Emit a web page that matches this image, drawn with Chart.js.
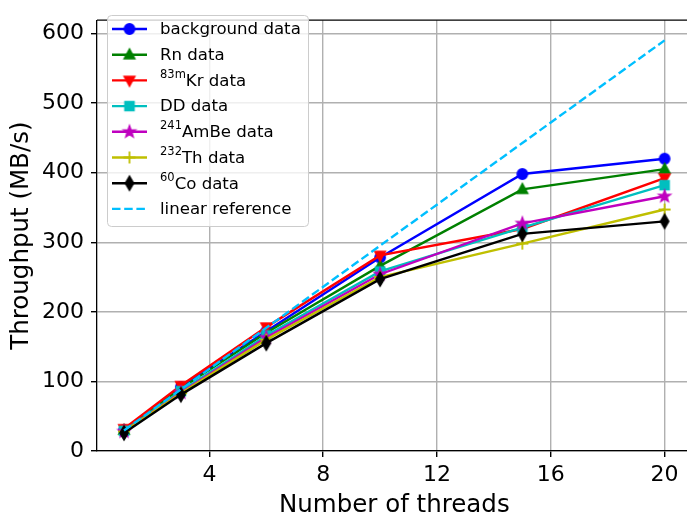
<!DOCTYPE html>
<html lang="en">
<head>
    <meta charset="UTF-8">
    <title>Throughput</title>
    <script src="https://cdn.jsdelivr.net/npm/chart.js@4.4.1/dist/chart.umd.min.js"></script>
    <style>
        html, body { margin: 0; padding: 0; overflow: hidden; background: #fff; }
        #box { width: 700px; height: 515px; }
    </style>
</head>
<body>
<div id="box"><canvas id="myChart"></canvas></div>
<script>

    // Données
    let threads = [1, 3, 6, 10, 15, 20];
    let backgroundData = [30, 92, 172, 278, 398, 420];
    let rnData = [30, 90, 170, 266, 376, 405];
    let krData = [32, 94, 178, 281, 319, 392];
    let ddData = [29, 86, 166, 258, 321, 382];
    let ambeData = [28, 84, 163, 254, 327, 366];
    let thData = [28, 83, 160, 250, 298, 347];
    let coData = [26, 81, 155, 247, 312, 330];
    let linearData = [29.5, 88.5, 177, 295, 442.5, 590];

    let xTicks = [4, 8, 12, 16, 20];
    let yTicks = [0, 100, 200, 300, 400, 500, 600];

    let seriesNames = ['background data', 'Rn data', 'Kr data', 'DD data', 'AmBe data', 'Th data', 'Co data', 'linear reference'];
    let seriesIsotopes = ['', '', '83m', '', '241', '232', '60', ''];
    let seriesColors = ['#0000ff', '#008000', '#ff0000', '#00bfbf', '#bf00bf', '#bfbf00', '#000000', '#00bfff'];
    let seriesMarkers = ['circle', 'triUp', 'triDown', 'square', 'star', 'plus', 'diamond', ''];
    let seriesValues = [backgroundData, rnData, krData, ddData, ambeData, thData, coData, linearData];

    const FONT = '"DejaVu Sans", sans-serif';

    // dessine un marqueur façon matplotlib sur un petit canvas
    let faitMarqueur = (kind, color) => {
        let c = document.createElement('canvas');
        c.width = 20; c.height = 20;
        let g = c.getContext('2d');
        g.translate(10, 10);
        g.fillStyle = color;
        g.strokeStyle = color;
        g.lineWidth = 1.4;
        g.lineJoin = 'miter';
        g.beginPath();
        if (kind === 'circle') {
            g.arc(0, 0, 5.2, 0, Math.PI * 2);
        } else if (kind === 'triUp') {
            g.moveTo(0, -5.8); g.lineTo(5.4, 4); g.lineTo(-5.4, 4); g.closePath();
        } else if (kind === 'triDown') {
            g.moveTo(0, 5.8); g.lineTo(5.4, -4); g.lineTo(-5.4, -4); g.closePath();
        } else if (kind === 'square') {
            g.rect(-4.6, -4.6, 9.2, 9.2);
        } else if (kind === 'star') {
            for (let i = 0; i < 10; i++) {
                let r = i % 2 === 0 ? 6.3 : 2.6;
                let a = -Math.PI / 2 + i * Math.PI / 5;
                if (i === 0) g.moveTo(r * Math.cos(a), r * Math.sin(a));
                else g.lineTo(r * Math.cos(a), r * Math.sin(a));
            }
            g.closePath();
        } else if (kind === 'plus') {
            g.lineWidth = 1.8;
            g.moveTo(-6, 0); g.lineTo(6, 0); g.moveTo(0, -6); g.lineTo(0, 6);
            g.stroke();
            return c;
        } else if (kind === 'diamond') {
            g.moveTo(0, -7.2); g.lineTo(4.2, 0); g.lineTo(0, 7.2); g.lineTo(-4.2, 0); g.closePath();
        }
        g.fill();
        g.stroke();
        return c;
    };

    let marqueurs = seriesMarkers.map((m, i) => m ? faitMarqueur(m, seriesColors[i]) : false);

    let datasets = seriesValues.map((vals, i) => {
        return {
            label: seriesIsotopes[i] + seriesNames[i],
            data: threads.map((t, k) => ({x: t, y: vals[k]})),
            borderColor: seriesColors[i],
            backgroundColor: seriesColors[i],
            borderWidth: 2.4,
            borderDash: i === 7 ? [8.5, 3.7] : [],
            pointStyle: marqueurs[i],
            pointRadius: i === 7 ? 0 : 6,
            tension: 0,
            order: seriesValues.length - i
        };
    });

    // légende dans la zone du graphique + cadre du haut
    let legendePlugin = {
        id: 'legende',
        afterDraw(chart) {
            let ctx = chart.ctx;
            let a = chart.chartArea;
            ctx.save();
            // spine du haut
            ctx.strokeStyle = '#000';
            ctx.lineWidth = 1.3;
            ctx.beginPath();
            ctx.moveTo(a.left, a.top);
            ctx.lineTo(a.right, a.top);
            ctx.stroke();

            // cadre de la légende
            let bx = 107, by = 15, bw = 201, bh = 211, r = 4;
            ctx.fillStyle = 'rgba(255,255,255,0.8)';
            ctx.strokeStyle = '#cccccc';
            ctx.lineWidth = 1;
            ctx.beginPath();
            ctx.roundRect(bx + 0.5, by + 0.5, bw, bh, r);
            ctx.fill();
            ctx.stroke();

            seriesNames.forEach((nom, i) => {
                let y = 29 + i * 25.7;
                ctx.strokeStyle = seriesColors[i];
                ctx.lineWidth = 2.4;
                ctx.setLineDash(i === 7 ? [8.5, 3.7] : []);
                ctx.beginPath();
                ctx.moveTo(112, y);
                ctx.lineTo(147, y);
                ctx.stroke();
                ctx.setLineDash([]);
                if (marqueurs[i]) {
                    ctx.drawImage(marqueurs[i], 129.5 - 10, y - 10);
                }
                let x = 160;
                ctx.fillStyle = '#000';
                ctx.textBaseline = 'middle';
                ctx.textAlign = 'left';
                if (seriesIsotopes[i]) {
                    ctx.font = '11.5px ' + FONT;
                    ctx.fillText(seriesIsotopes[i], x, y - 5.5);
                    x += ctx.measureText(seriesIsotopes[i]).width;
                }
                ctx.font = '16.6px ' + FONT;
                ctx.fillText(nom, x, y + 1);
            });
            ctx.restore();
        }
    };

    let ctx = document.getElementById('myChart').getContext('2d');
    let chart = new Chart(ctx, {
        type: 'line',
        data: { datasets: datasets },
        plugins: [legendePlugin],
        options: {
            responsive: true,
            maintainAspectRatio: false,
            animation: false,
            devicePixelRatio: 1,
            layout: { padding: { top: 6, right: 4, left: 0, bottom: 0 } },
            plugins: {
                legend: { display: false },
                tooltip: { enabled: false }
            },
            scales: {
                x: {
                    type: 'linear',
                    min: 0.05,
                    max: 20.95,
                    afterBuildTicks: (scale) => { scale.ticks = xTicks.map(v => ({value: v})); },
                    afterFit: (scale) => { scale.height = 64; },
                    grid: { color: '#b0b0b0', lineWidth: 1.4, tickColor: '#000', tickLength: 6 },
                    border: { color: '#000', width: 1.3 },
                    ticks: { color: '#000', font: { family: FONT, size: 22 }, padding: 5, maxRotation: 0 },
                    title: { display: true, text: 'Number of threads', color: '#000', font: { family: FONT, size: 24.5 }, padding: { top: 0, bottom: -5 } }
                },
                y: {
                    type: 'linear',
                    min: 0,
                    max: 619,
                    afterBuildTicks: (scale) => { scale.ticks = yTicks.map(v => ({value: v})); },
                    afterFit: (scale) => { scale.width = 97; },
                    grid: { color: '#b0b0b0', lineWidth: 1.4, tickColor: '#000', tickLength: 6 },
                    border: { color: '#000', width: 1.3 },
                    ticks: { color: '#000', font: { family: FONT, size: 22 }, padding: 7 },
                    title: { display: true, text: 'Throughput (MB/s)', color: '#000', font: { family: FONT, size: 24.5 }, padding: { top: 7, bottom: 0 } }
                }
            }
        }
    });

</script>
</body>
</html>
